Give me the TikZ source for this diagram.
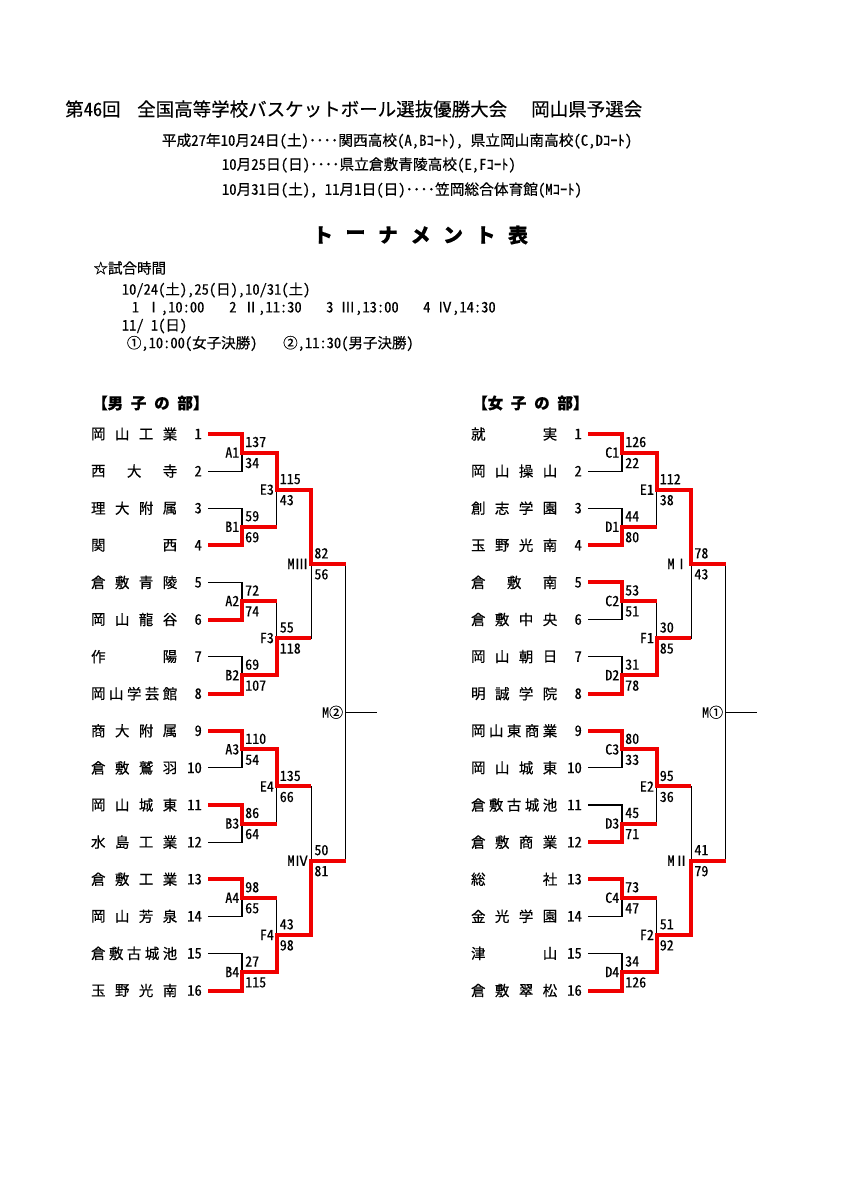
\documentclass[tikz,border=0pt]{standalone}
\usepackage{fontspec}
\setmainfont{Noto Sans CJK JP}[RawFeature=+hwid, FakeBold=0.35]
\newfontfamily\numfont{Noto Sans CJK JP}[RawFeature=+hwid, FakeBold=0.35]
\usetikzlibrary{calc}
\definecolor{brkred}{HTML}{F00000}
\tikzset{
  head/.style={anchor=west, inner sep=0pt},
  tname/.style={inner sep=0pt, font={\fontsize{14.5}{16}\selectfont}},
  seed/.style={inner sep=0pt, anchor=east, font={\numfont\fontsize{14.5}{16}\selectfont}},
  score/.style={inner sep=0pt, anchor=west, font={\numfont\fontsize{14}{16}\selectfont}},
  rnd/.style={inner sep=0pt, anchor=east, font={\numfont\fontsize{14}{16}\selectfont}},
  loss/.style={draw=black, line width=1.1pt},
  win/.style={draw=brkred, line width=4pt, line join=miter},
}

\begin{document}
\begin{tikzpicture}[x=1pt,y=-1pt]
  \fill[white] (0,0) rectangle (848,1200);
  \useasboundingbox (0,0) rectangle (848,1200);
  % heading
  \begin{scope}[every node/.append style={font={\fontsize{18.5}{20}\selectfont}}]
    \node[head] (t1a) at (65,109) {第46回};
    \node[head] (t1b) at (137,109) {全国高等学校バスケットボール選抜優勝大会};
    \node[head] (t1c) at (531,109) {岡山県予選会};
  \end{scope}
  \begin{scope}[every node/.append style={font={\fontsize{14.7}{16}\selectfont}}]
    \node[head] (t2) at (161.7,141) {平成27年10月24日(土)････関西高校(A,Bｺｰﾄ), 県立岡山南高校(C,Dｺｰﾄ)};
    \node[head] (t3) at (221.7,165) {10月25日(日)････県立倉敷青陵高校(E,Fｺｰﾄ)};
    \node[head] (t4) at (221.7,190) {10月31日(土), 11月1日(日)････笠岡総合体育館(Mｺｰﾄ)};
  \end{scope}
  \foreach \ch [count=\k] in {ト,ー,ナ,メ,ン,ト,表}
    \node[inner sep=0pt, font={\bfseries\fontsize{20}{22}\selectfont}] (ttl\k) at ({323+(\k-1)*32.5},235) {\ch};
  % schedule
  \begin{scope}[every node/.append style={font={\fontsize{14.5}{16}\selectfont}}]
    \node[head] (s0) at (93.3,268) {☆試合時間};
    \node[head] (s1) at (121.7,290) {10/24(土),25(日),10/31(土)};
    \node[head] (s2a) at (131.7,308.5) {1 Ⅰ,10:00};
    \node[head] (s2b) at (229,308.5) {2 Ⅱ,11:30};
    \node[head] (s2c) at (326,308.5) {3 Ⅲ,13:00};
    \node[head] (s2d) at (423,308.5) {4 Ⅳ,14:30};
    \node[head] (s3) at (121.7,326) {11/ 1(日)};
    \node[head] (s4a) at (126.7,343.5) {①,10:00(女子決勝)};
    \node[head] (s4b) at (283,343.5) {②,11:30(男子決勝)};
  \end{scope}
  \foreach \side/\dx/\ttl in {m/0/男, w/380/女}{
    \coordinate (\side-base) at (\dx,0);
    \node[head, font={\bfseries\fontsize{15.5}{17}\selectfont}] (\side-ttl) at ($(\side-base)+(92,403)$)
      {【\ttl\hspace{0.5em}子\hspace{0.5em}の\hspace{0.5em}部】};
  }
  % teams: side/seed/chars/name
  \foreach \side/\i/\n/\nm in {
      m/1/4/{岡,山,工,業}, m/2/3/{西,大,寺}, m/3/4/{理,大,附,属}, m/4/2/{関,西},
      m/5/4/{倉,敷,青,陵}, m/6/4/{岡,山,龍,谷}, m/7/2/{作,陽}, m/8/5/{岡,山,学,芸,館},
      m/9/4/{商,大,附,属}, m/10/4/{倉,敷,鷲,羽}, m/11/4/{岡,山,城,東}, m/12/4/{水,島,工,業},
      m/13/4/{倉,敷,工,業}, m/14/4/{岡,山,芳,泉}, m/15/5/{倉,敷,古,城,池}, m/16/4/{玉,野,光,南},
      w/1/2/{就,実}, w/2/4/{岡,山,操,山}, w/3/4/{創,志,学,園}, w/4/4/{玉,野,光,南},
      w/5/3/{倉,敷,南}, w/6/4/{倉,敷,中,央}, w/7/4/{岡,山,朝,日}, w/8/4/{明,誠,学,院},
      w/9/5/{岡,山,東,商,業}, w/10/4/{岡,山,城,東}, w/11/5/{倉,敷,古,城,池}, w/12/4/{倉,敷,商,業},
      w/13/2/{総,社}, w/14/4/{金,光,学,園}, w/15/2/{津,山}, w/16/4/{倉,敷,翠,松}}{
    \coordinate (\side-0-\i) at ($(\side-base)+(208,{434+(\i-1)*37.1})$);
    \node[seed] (\side-s\i) at ($(\side-base)+(202,{434+(\i-1)*37.1})$) {\i};
    \foreach \ch [count=\k] in \nm
      \node[tname] (\side-n\i-\k) at ($(\side-base)+({98.3+(\k-1)*71.7/(\n-1)},{434+(\i-1)*37.1})$) {\ch};
  }
  % results: side/round/match/label/upper/lower/winner
  \def\results{
    m/1/1/A1/137/34/1, m/1/2/B1/59/69/2, m/1/3/A2/72/74/2, m/1/4/B2/69/107/2,
    m/1/5/A3/110/54/1, m/1/6/B3/86/64/1, m/1/7/A4/98/65/1, m/1/8/B4/27/115/2,
    m/2/1/E3/115/43/1, m/2/2/F3/55/118/2, m/2/3/E4/135/66/1, m/2/4/F4/43/98/2,
    m/3/1/MⅢ/82/56/1, m/3/2/MⅣ/50/81/2, m/4/1/M②/-/-/0,
    w/1/1/C1/126/22/1, w/1/2/D1/44/80/2, w/1/3/C2/53/51/1, w/1/4/D2/31/78/2,
    w/1/5/C3/80/33/1, w/1/6/D3/45/71/2, w/1/7/C4/73/47/1, w/1/8/D4/34/126/2,
    w/2/1/E1/112/38/1, w/2/2/F1/30/85/2, w/2/3/E2/95/36/1, w/2/4/F2/51/92/2,
    w/3/1/MⅠ/78/43/1, w/3/2/MⅡ/41/79/2, w/4/1/M①/-/-/0}
  \foreach \side/\lv/\mk/\lab/\sa/\sb/\win in \results
    \coordinate (\side-\lv-\mk) at ($(\side-0-1)+({34+(\lv-1)*34.6},{((\mk-1)*2^\lv+(2^\lv-1)/2)*37.1})$);
  \foreach \side/\lv/\mk/\lab/\sa/\sb/\win in \results{
    \pgfmathtruncatemacro\pl{\lv-1}
    \pgfmathtruncatemacro\ia{2*\mk-1}
    \pgfmathtruncatemacro\ib{2*\mk}
    \draw[loss] (\side-\pl-\ia) -- (\side-\lv-\mk |- \side-\pl-\ia) -- (\side-\lv-\mk |- \side-\pl-\ib) -- (\side-\pl-\ib);
    \node[rnd] (\side-r\lv-\mk) at ([xshift=-2.5pt]\side-\lv-\mk) {\lab};
    \ifnum\win>0
      \node[score] (\side-a\lv-\mk) at ([xshift=3pt,yshift=10.5pt]\side-\lv-\mk) {\sa};
      \node[score] (\side-b\lv-\mk) at ([xshift=3pt,yshift=-10.5pt]\side-\lv-\mk) {\sb};
    \fi
  }
  \foreach \side in {m,w}{
    \coordinate (\side-end) at ($(\side-4-1)+(31.5,0)$);
    \draw[loss] (\side-4-1) -- (\side-end);
  }
  % winners in red
  \foreach \side/\lv/\mk/\lab/\sa/\sb/\win in \results{
    \ifnum\win>0
      \pgfmathtruncatemacro\pl{\lv-1}
      \pgfmathtruncatemacro\nl{\lv+1}
      \pgfmathtruncatemacro\iw{2*\mk-2+\win}
      \pgfmathtruncatemacro\pk{(\mk+1)/2}
      \draw[win] (\side-\pl-\iw) -- (\side-\lv-\mk |- \side-\pl-\iw) -- (\side-\lv-\mk) -- (\side-\nl-\pk |- \side-\lv-\mk);
    \fi
  }
\end{tikzpicture}
\end{document}
